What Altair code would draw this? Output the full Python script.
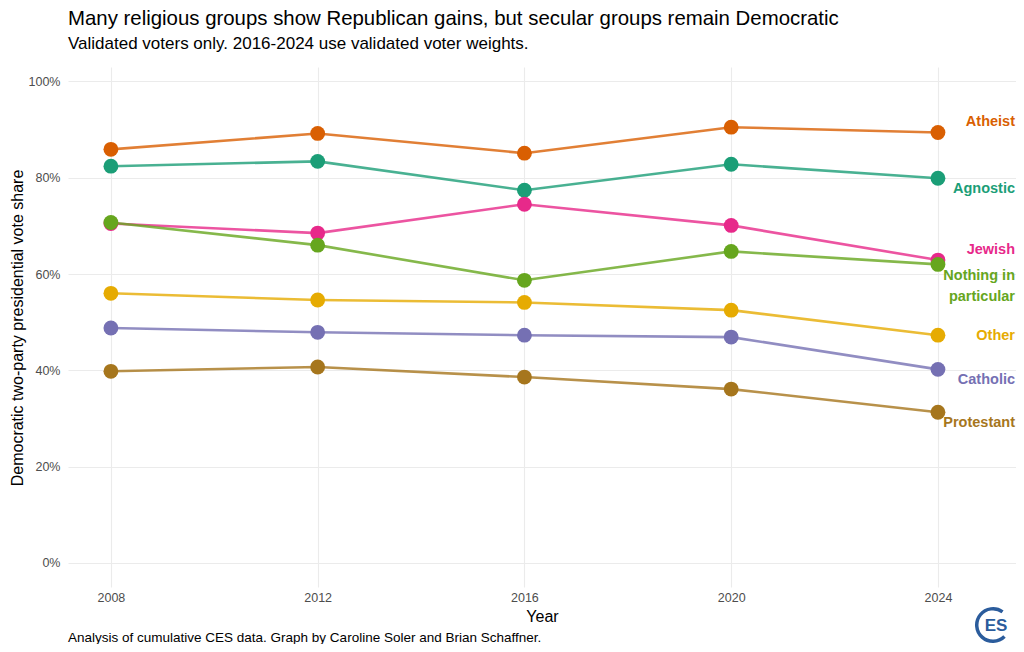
import altair as alt
import pandas as pd

years = [2008, 2012, 2016, 2020, 2024]
groups = ["Agnostic", "Atheist", "Catholic", "Jewish",
          "Nothing in particular", "Other", "Protestant"]
agnostic = [82.4, 83.4, 77.4, 82.8, 79.9]
atheist = [85.9, 89.2, 85.1, 90.5, 89.4]
catholic = [48.8, 47.9, 47.3, 46.9, 40.2]
jewish = [70.5, 68.5, 74.5, 70.1, 62.9]
nothing = [70.7, 66.0, 58.7, 64.7, 62.0]
other = [56.0, 54.6, 54.1, 52.5, 47.3]
protestant = [39.8, 40.7, 38.6, 36.1, 31.3]
series = [agnostic, atheist, catholic, jewish, nothing, other, protestant]
colors = ["#1B9E77", "#D95F02", "#7570B3", "#E7298A", "#66A61E", "#E6AB02", "#A6761D"]
label_text = ["Agnostic", "Atheist", "Catholic", "Jewish",
              "Nothing in\nparticular", "Other", "Protestant"]
label_dy = [11, -10, 11, -10, 11.5, 1, 11]

rows = []
for g, vals, lab in zip(groups, series, label_text):
    for yr, v in zip(years, vals):
        rows.append({"group": g, "year": yr, "share": v, "label": lab})
df = pd.DataFrame(rows)

W, H = 948, 520
FONT = "Liberation Sans"

xs = alt.X("year:Q", scale=alt.Scale(domain=[2007.17, 2025.51], nice=False, zero=False),
           axis=alt.Axis(values=years, format="d", title="Year", grid=True,
                         ticks=False, domain=False, labelFont=FONT, labelFontSize=12.5,
                         labelColor="#4d4d4d", labelPadding=4, titleFont=FONT,
                         titleFontSize=16, titleFontWeight="normal",
                         titleColor="#000000", titleY=29, titleBaseline="middle",
                         gridColor="#ebebeb", gridWidth=1.1))
ys = alt.Y("share:Q", scale=alt.Scale(domain=[-5, 103], nice=False, zero=False),
           axis=alt.Axis(values=[0, 20, 40, 60, 80, 100], labelExpr="datum.value + '%'",
                         title="Democratic two-party presidential vote share",
                         ticks=False, domain=False, labelFont=FONT, labelFontSize=12.5,
                         labelColor="#4d4d4d", labelPadding=8, titleFont=FONT,
                         titleFontSize=16, titleFontWeight="normal",
                         titleColor="#000000", titleX=-51, titleY=H / 2 + 0.5,
                         titleAngle=-90, titleAlign="center", titleBaseline="middle",
                         gridColor="#ebebeb", gridWidth=1.1))
cscale = alt.Color("group:N", scale=alt.Scale(domain=groups, range=colors), legend=None)

base = alt.Chart(df)
lines = base.mark_line(strokeWidth=2.6, opacity=0.8).encode(
    x=xs, y=ys, color=cscale, detail="group:N")
points = base.mark_point(filled=True, size=220, opacity=1).encode(
    x="year:Q", y="share:Q", color=cscale)

label_layers = []
for g, c, dy in zip(groups, colors, label_dy):
    label_layers.append(
        base.transform_filter((alt.datum.group == g) & (alt.datum.year == 2024))
        .mark_text(align="right", baseline="middle", dy=dy, fontSize=14.5, fontWeight="bold",
                   font=FONT, color=c, lineBreak="\n", lineHeight=21)
        .encode(x=alt.value(W - 1), y="share:Q", text="label:N")
    )

logo_df = pd.DataFrame({"t": ["ES"]})
logo_ring = alt.Chart(logo_df).mark_arc(color="#2b5c9c").encode(
    x=alt.value(W - 23), y=alt.value(H + 38),
    theta=alt.value(0.75 * 3.14159), theta2=alt.value(2.2 * 3.14159),
    radius=alt.value(18), radius2=alt.value(14.5))
logo_text = alt.Chart(logo_df).mark_text(
    font=FONT, fontSize=17, fontWeight="bold", color="#2b5c9c",
    align="center", baseline="middle").encode(
    x=alt.value(W - 20), y=alt.value(H + 39), text="t:N")

caption = alt.Chart(pd.DataFrame({"t": ["Analysis of cumulative CES data. Graph by Caroline Soler and Brian Schaffner."]})
                    ).mark_text(font=FONT, fontSize=13.5, align="left", baseline="alphabetic",
                                color="#000000").encode(
    x=alt.value(0), y=alt.value(H + 55), text="t:N")

chart = alt.layer(lines, points, *label_layers, caption, logo_ring, logo_text).properties(
    width=W, height=H,
    padding={"left": 60, "top": 59, "right": 0, "bottom": 57},
    autosize=alt.AutoSizeParams(type="none"),
    title=alt.TitleParams(
        text="Many religious groups show Republican gains, but secular groups remain Democratic",
        subtitle="Validated voters only. 2016-2024 use validated voter weights.",
        anchor="start", frame="group", dx=0, offset=15,
        font=FONT, fontSize=20.4, fontWeight="normal", color="#000000",
        subtitleFont=FONT, subtitleFontSize=17, subtitleColor="#000000", subtitlePadding=6.5),
).configure_view(stroke=None)

chart.save("out.html", embed_options={"renderer": "svg", "actions": False})
